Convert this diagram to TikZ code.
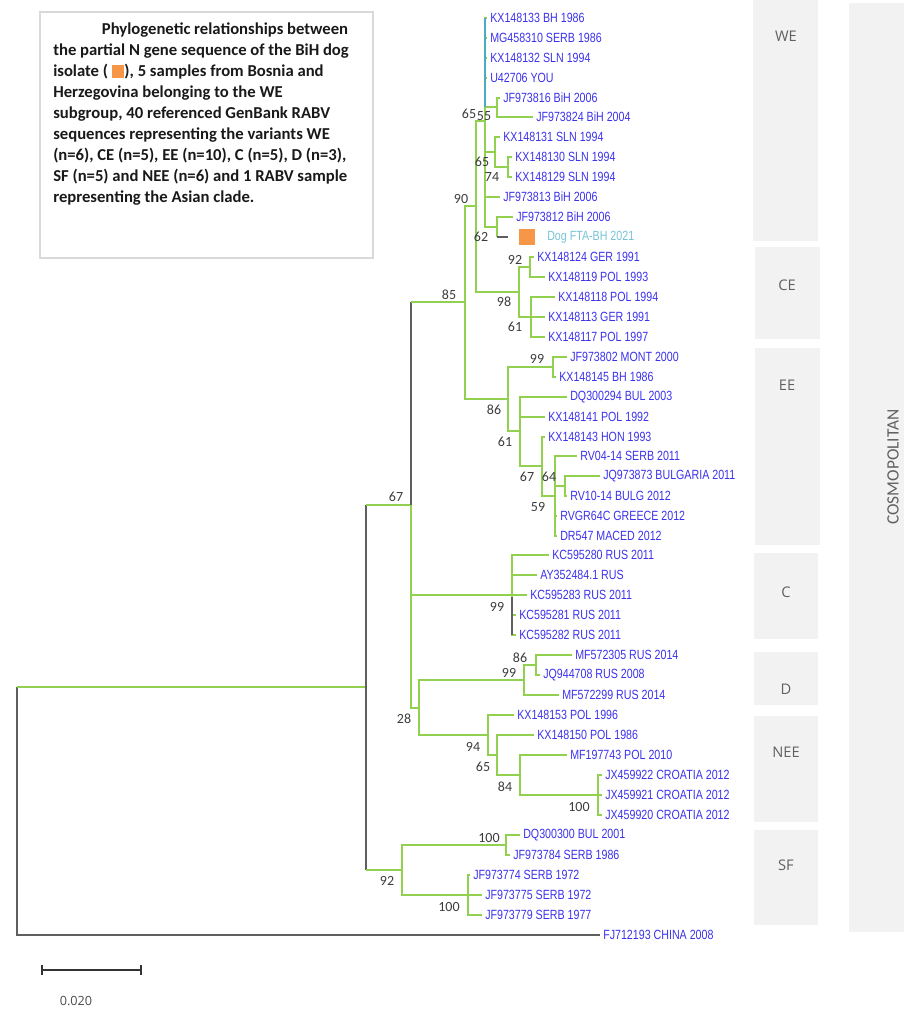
\documentclass[tikz,border=0pt]{standalone}
\usepackage{fontspec}
\usepackage{xcolor}
\usepackage{tikz}
\usetikzlibrary{positioning,calc}
\newfontfamily\leaffont[FakeStretch=0.8]{Liberation Sans}
\newfontfamily\capfont{Carlito}
\newfontfamily\grpfont{Open Sans}
\definecolor{brgreen}{RGB}{146,208,80}
\definecolor{brdark}{RGB}{95,95,95}
\definecolor{brteal}{RGB}{75,172,198}
\definecolor{leafblue}{RGB}{60,50,235}
\definecolor{dogteal}{RGB}{120,195,215}
\definecolor{dogorange}{RGB}{247,150,70}
\definecolor{panelgray}{RGB}{242,242,242}
\definecolor{bootgray}{RGB}{60,60,60}

\begin{document}
\begin{tikzpicture}[x=0.75pt,y=-0.75pt,
    br/.style={draw=brgreen,line width=1.1pt},
    dk/.style={draw=brdark,line width=1.1pt},
    tl/.style={draw=brteal,line width=1.1pt},
    leaf/.style={anchor=west,inner xsep=2.25pt,inner ysep=0.5pt,text=leafblue,font=\leaffont\fontsize{10}{12}\selectfont},
    boot/.style={inner sep=0pt,text=bootgray,font=\capfont\fontsize{10.5}{12}\selectfont},
    panel/.style={fill=panelgray},
    grp/.style={text=black!62,font=\grpfont\fontsize{11}{13}\selectfont}]
    \useasboundingbox (0,0) rectangle (904,1011);
    % 分组
    \fill[panel] (753,0) rectangle (818,241);
    \fill[panel] (755,247) rectangle (820,339);
    \fill[panel] (755,348) rectangle (820,545);
    \fill[panel] (754,553) rectangle (818,639);
    \fill[panel] (754,652) rectangle (818,705);
    \fill[panel] (754,716) rectangle (818,822);
    \fill[panel] (754,830) rectangle (818,925);
    \fill[panel] (849,3) rectangle (904,932);
    \node[grp] (gWE) at (786,36) {WE};
    \node[grp] (gCE) at (787,285) {CE};
    \node[grp] (gEE) at (787,385) {EE};
    \node[grp] (gC) at (786,592) {C};
    \node[grp] (gD) at (786,689) {D};
    \node[grp] (gNEE) at (786,752) {NEE};
    \node[grp] (gSF) at (786,865) {SF};
    \node[grp,rotate=90,font=\capfont\fontsize{13}{15}\selectfont] (gCOS) at (893,467) {COSMOPOLITAN};
    % 标题框
    \draw[black!15,line width=1pt] (40,12) rectangle (373,258);
    \node[anchor=north west,inner sep=0pt,align=left,text=black!90,
        font=\capfont\bfseries\fontsize{12.5}{15.75}\selectfont] (cap) at (53,23)
        {\hspace*{36.5pt}Phylogenetic relationships between\\
        the partial N gene sequence of the BiH dog\\
        isolate ( \textcolor{dogorange}{\rule[-0.5pt]{9.5pt}{9.5pt}}), 5 samples from Bosnia and\\
        Herzegovina belonging to the WE\\
        subgroup, 40 referenced GenBank RABV\\
        sequences representing the variants WE\\
        (n=6), CE (n=5), EE (n=10), C (n=5), D (n=3),\\
        SF (n=5) and NEE (n=6) and 1 RABV sample\\
        representing the Asian clade.};
    % 内部节点
    \coordinate (root) at (17,811);
    \coordinate (nA) at (366,687);
    \coordinate (n67) at (411,505);
    \coordinate (n85) at (465,302);
    \coordinate (n90) at (476,206);
    \coordinate (nWE) at (485,121);
    \coordinate (nJF) at (497,107);
    \coordinate (nSLN) at (495,152);
    \coordinate (n74) at (508,167);
    \coordinate (n62) at (497,227);
    \coordinate (nCE) at (519,292);
    \coordinate (n92) at (530,267);
    \coordinate (n61b) at (531,317);
    \coordinate (nEE) at (508,399);
    \coordinate (n99a) at (553,367);
    \coordinate (n61c) at (520,431);
    \coordinate (n67b) at (542,466);
    \coordinate (n59) at (555,496);
    \coordinate (n64) at (565,486);
    \coordinate (nC) at (512,595);
    \coordinate (n28) at (419,708);
    \coordinate (nD) at (524,680);
    \coordinate (n86) at (536,665);
    \coordinate (n94) at (488,735);
    \coordinate (n65b) at (497,755);
    \coordinate (n84) at (520,775);
    \coordinate (nCro) at (598,795);
    \coordinate (nSF) at (402,870);
    \coordinate (n100a) at (506,845);
    \coordinate (n100b) at (468,895);
    % 叶子
    \node[leaf] (l1) at (487,18) {KX148133 BH 1986};
    \node[leaf] (l2) at (487,38) {MG458310 SERB 1986};
    \node[leaf] (l3) at (487,58) {KX148132 SLN 1994};
    \node[leaf] (l4) at (487,78) {U42706 YOU};
    \node[leaf] (l5) at (500,98) {JF973816 BiH 2006};
    \node[leaf] (l6) at (533,117) {JF973824 BiH 2004};
    \node[leaf] (l7) at (500,137) {KX148131 SLN 1994};
    \node[leaf] (l8) at (512,157) {KX148130 SLN 1994};
    \node[leaf] (l9) at (512,177) {KX148129 SLN 1994};
    \node[leaf] (l10) at (500,197) {JF973813 BiH 2006};
    \node[leaf] (l11) at (513,217) {JF973812 BiH 2006};
    \coordinate (d12) at (508,237);
    \node[fill=dogorange,minimum size=12pt,inner sep=0pt] (sq12) at (527,237) {};
    \node[leaf,text=dogteal] (l12) at (544,237) {Dog FTA-BH 2021};
    \node[leaf] (l13) at (534,257) {KX148124 GER 1991};
    \node[leaf] (l14) at (545,277) {KX148119 POL 1993};
    \node[leaf] (l15) at (555,297) {KX148118 POL 1994};
    \node[leaf] (l16) at (545,317) {KX148113 GER 1991};
    \node[leaf] (l17) at (545,337) {KX148117 POL 1997};
    \node[leaf] (l18) at (567,357) {JF973802 MONT 2000};
    \node[leaf] (l19) at (556,377) {KX148145 BH 1986};
    \node[leaf] (l20) at (567,397) {DQ300294 BUL 2003};
    \node[leaf] (l21) at (545,417) {KX148141 POL 1992};
    \node[leaf] (l22) at (545,437) {KX148143 HON 1993};
    \node[leaf] (l23) at (577,456) {RV04-14 SERB 2011};
    \node[leaf] (l24) at (600,476) {JQ973873 BULGARIA 2011};
    \node[leaf] (l25) at (567,496) {RV10-14 BULG 2012};
    \node[leaf] (l26) at (557,516) {RVGR64C GREECE 2012};
    \node[leaf] (l27) at (557,536) {DR547 MACED 2012};
    \node[leaf] (l28) at (549,555) {KC595280 RUS 2011};
    \node[leaf] (l29) at (537,575) {AY352484.1 RUS};
    \node[leaf] (l30) at (527,595) {KC595283 RUS 2011};
    \node[leaf] (l31) at (516,615) {KC595281 RUS 2011};
    \node[leaf] (l32) at (516,635) {KC595282 RUS 2011};
    \node[leaf] (l33) at (572,655) {MF572305 RUS 2014};
    \node[leaf] (l34) at (540,675) {JQ944708 RUS 2008};
    \node[leaf] (l35) at (559,695) {MF572299 RUS 2014};
    \node[leaf] (l36) at (514,715) {KX148153 POL 1996};
    \node[leaf] (l37) at (534,735) {KX148150 POL 1986};
    \node[leaf] (l38) at (567,755) {MF197743 POL 2010};
    \node[leaf] (l39) at (602,775) {JX459922 CROATIA 2012};
    \node[leaf] (l40) at (602,795) {JX459921 CROATIA 2012};
    \node[leaf] (l41) at (602,815) {JX459920 CROATIA 2012};
    \node[leaf] (l42) at (520,835) {DQ300300 BUL 2001};
    \node[leaf] (l43) at (510,855) {JF973784 SERB 1986};
    \node[leaf] (l44) at (470,875) {JF973774 SERB 1972};
    \node[leaf] (l45) at (482,895) {JF973775 SERB 1972};
    \node[leaf] (l46) at (482,915) {JF973779 SERB 1977};
    \node[leaf] (l47) at (600,935) {FJ712193 CHINA 2008};
    % 根与主干
    \draw[dk] (root |- nA) -- (root |- l47.west) -- (l47.west);
    \draw[br] (root |- nA) -- (nA);
    \draw[dk] (nA |- n67) -- (nA |- nSF);
    \draw[br] (nA |- n67) -- (n67) (nA |- nSF) -- (nSF);
    \draw[dk] (n67 |- n85) -- (n67);
    \draw[br] (n67) -- (n67 |- n28) -- (n28) (n67 |- n85) -- (n85) (n67 |- nC) -- (nC);
    \draw[br] (n85) |- (n90) (n85) |- (nEE);
    \draw[br] (n90) |- (nWE) (n90) |- (nCE);
    % WE
    \draw[br] (nWE) |- (l1.west) (nWE) |- (l2.west) (nWE) |- (l3.west) (nWE) |- (l4.west);
    \draw[br] (nWE) |- (nJF) (nWE) |- (nSLN) (nWE) |- (l10.west) (nWE) |- (n62);
    \draw[tl] (nWE |- l1.west) -- (nWE |- nJF);
    \draw[br] (nJF) |- (l5.west) (nJF) |- (l6.west);
    \draw[br] (nSLN) |- (l7.west) (nSLN) |- (n74);
    \draw[br] (n74) |- (l8.west) (n74) |- (l9.west);
    \draw[br] (n62) |- (l11.west) (n62) -- (n62 |- d12);
    \draw[dk] (n62 |- d12) -- (d12);
    % CE
    \draw[br] (nCE) |- (n92) (nCE) |- (n61b);
    \draw[br] (n92) |- (l13.west) (n92) |- (l14.west);
    \draw[br] (n61b) |- (l15.west) (n61b) |- (l16.west) (n61b) |- (l17.west);
    % EE
    \draw[br] (nEE) |- (n99a) (nEE) |- (n61c);
    \draw[br] (n99a) |- (l18.west) (n99a) |- (l19.west);
    \draw[br] (n61c) |- (l20.west) (n61c) |- (l21.west) (n61c) |- (n67b);
    \draw[br] (n67b) |- (l22.west) (n67b) |- (n59);
    \draw[br] (n59) |- (l23.west) (n59) |- (n64) (n59) |- (l26.west) (n59) |- (l27.west);
    \draw[br] (n64) |- (l24.west) (n64) |- (l25.west);
    % C
    \draw[br] (nC) |- (l28.west) (nC) |- (l29.west) (nC) |- (l30.west) (nC) |- (l31.west) (nC) |- (l32.west);
    \draw[dk] ([yshift=-1.5pt]nC) -- (nC |- l32.west);
    % D 与 NEE
    \draw[br] (n28) |- (nD) (n28) |- (n94);
    \draw[br] (nD) |- (n86) (nD) |- (l35.west);
    \draw[br] (n86) |- (l33.west) (n86) |- (l34.west);
    \draw[br] (n94) |- (l36.west) (n94) |- (n65b);
    \draw[br] (n65b) |- (l37.west) (n65b) |- (n84);
    \draw[br] (n84) |- (l38.west) (n84) |- (nCro);
    \draw[br] (nCro) |- (l39.west) (nCro) |- (l40.west) (nCro) |- (l41.west);
    % SF
    \draw[br] (nSF) |- (n100a) (nSF) |- (n100b);
    \draw[br] (n100a) |- (l42.west) (n100a) |- (l43.west);
    \draw[br] (n100b) |- (l44.west) (n100b) |- (l45.west) (n100b) |- (l46.west);
    % 自展值
    \node[boot] (bWEa) at (469,114) {65};
    \node[boot] (bWEb) at (484,116) {55};
    \node[boot] (bSLN) at (482,162) {65};
    \node[boot] (b74) at (492,177) {74};
    \node[boot] (b90) at (461,199) {90};
    \node[boot] (b62) at (481,237) {62};
    \node[boot] (b92) at (515,260) {92};
    \node[boot] (bCE) at (504,302) {98};
    \node[boot] (b61b) at (515,327) {61};
    \node[boot] (b85) at (449,295) {85};
    \node[boot] (b99a) at (537,359) {99};
    \node[boot] (bEE) at (494,410) {86};
    \node[boot] (b61c) at (505,442) {61};
    \node[boot] (b67b) at (527,477) {67};
    \node[boot] (b64) at (549,477) {64};
    \node[boot] (b59) at (538,507) {59};
    \node[boot] (b67) at (396,497) {67};
    \node[boot] (bC) at (497,607) {99};
    \node[boot] (b86) at (520,658) {86};
    \node[boot] (bD) at (509,673) {99};
    \node[boot] (b28) at (404,719) {28};
    \node[boot] (b94) at (473,747) {94};
    \node[boot] (b65b) at (483,767) {65};
    \node[boot] (b84) at (505,787) {84};
    \node[boot] (bCro) at (579,807) {100};
    \node[boot] (b100a) at (489,838) {100};
    \node[boot] (bSF) at (387,881) {92};
    \node[boot] (b100b) at (449,907) {100};
    % 比例尺
    \coordinate (sb1) at (42,970);
    \coordinate (sb2) at (141,970);
    \draw[black!80,line width=1pt] (sb1) -- (sb2);
    \draw[black!80,line width=1pt] ([yshift=4pt]sb1) -- ([yshift=-4pt]sb1) ([yshift=4pt]sb2) -- ([yshift=-4pt]sb2);
    \node[text=black!70,font=\grpfont\fontsize{9.5}{11}\selectfont] (sbl) at (76,1001) {0.020};
\end{tikzpicture}
\end{document}
